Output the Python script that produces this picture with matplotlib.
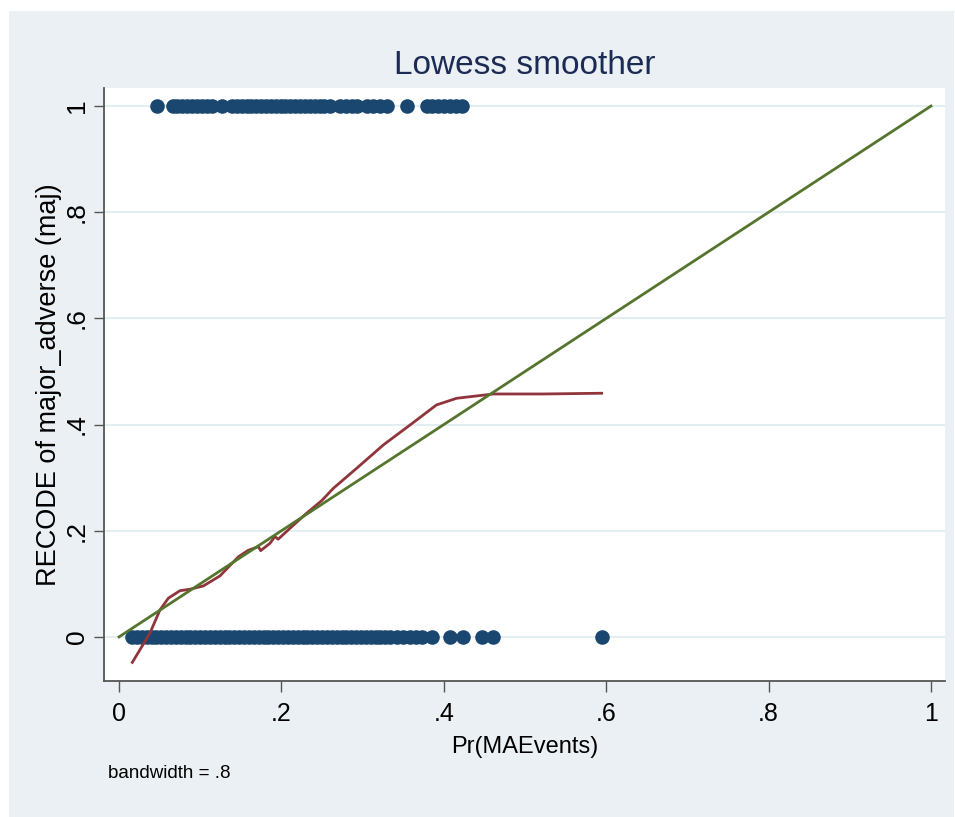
import matplotlib.pyplot as plt
from matplotlib.patches import Rectangle

# observed outcome = 1
x_event = [0.047, 0.066, 0.072, 0.078, 0.084, 0.090, 0.096, 0.102, 0.108, 0.114,
           0.127, 0.139, 0.145, 0.151, 0.157, 0.163, 0.169, 0.175, 0.181, 0.187,
           0.193, 0.199, 0.205, 0.211, 0.217, 0.223, 0.229, 0.235, 0.241, 0.247,
           0.253, 0.260, 0.272, 0.280, 0.287, 0.293, 0.305, 0.313, 0.322, 0.330,
           0.355, 0.379, 0.386, 0.393, 0.400, 0.408, 0.415, 0.422]

# observed outcome = 0
x_none = [0.016, 0.022, 0.028, 0.034, 0.040, 0.046, 0.052, 0.058, 0.064, 0.070,
          0.076, 0.082, 0.088, 0.094, 0.100, 0.106, 0.112, 0.118, 0.124, 0.130,
          0.136, 0.142, 0.148, 0.154, 0.160, 0.166, 0.172, 0.178, 0.184, 0.190,
          0.196, 0.202, 0.208, 0.214, 0.220, 0.226, 0.232, 0.238, 0.244, 0.250,
          0.256, 0.262, 0.268, 0.274, 0.280, 0.286, 0.292, 0.298, 0.304, 0.310,
          0.316, 0.322, 0.328, 0.334, 0.342, 0.350, 0.358, 0.366, 0.373, 0.385,
          0.408, 0.424, 0.447, 0.461, 0.595]

# lowess curve
lw_x = [0.0164, 0.038, 0.0505, 0.0608, 0.075, 0.0874, 0.1039, 0.1244, 0.147, 0.159,
        0.1716, 0.1745, 0.186, 0.192, 0.196, 0.2106, 0.231, 0.2496, 0.264, 0.2927,
        0.3255, 0.360, 0.391, 0.4157, 0.461, 0.5225, 0.5944]
lw_y = [-0.048, 0.007, 0.051, 0.073, 0.087, 0.0898, 0.096, 0.115, 0.151, 0.163,
        0.170, 0.1625, 0.1765, 0.189, 0.184, 0.2047, 0.233, 0.2567, 0.280, 0.3177,
        0.3616, 0.401, 0.437, 0.4495, 0.4576, 0.4576, 0.459]

# reference line
ref_x = [0, 1]
ref_y = [0, 1]

xticks = [0, 0.2, 0.4, 0.6, 0.8, 1]
xtick_labels = ['0', '.2', '.4', '.6', '.8', '1']
yticks = [0, 0.2, 0.4, 0.6, 0.8, 1]
ytick_labels = ['0', '.2', '.4', '.6', '.8', '1']

plt.rcParams['font.family'] = ['Liberation Sans', 'DejaVu Sans']

navy = '#1A476F'
maroon = '#90353B'
green = '#55752F'
panel = '#EAF0F3'

fig = plt.figure(figsize=(9.55, 8.17), dpi=100)
fig.patch.set_facecolor('white')
fig.patches.append(Rectangle((9 / 955, 0), 945 / 955, 806 / 817,
                             transform=fig.transFigure, facecolor=panel,
                             edgecolor='none', zorder=-10))

ax = fig.add_axes([0.1089, 0.1665, 0.8806, 0.7258])
ax.set_facecolor('white')
ax.set_xlim(-0.0185, 1.0172)
ax.set_ylim(-0.083, 1.034)

for yv in yticks:
    ax.axhline(yv, color='#E3EEF1', lw=1.5, zorder=1)

ax.plot(x_event, [1] * len(x_event), 'o', color=navy, ms=10.5, mew=0, zorder=3)
ax.plot(x_none, [0] * len(x_none), 'o', color=navy, ms=10.5, mew=0, zorder=3)
ax.plot(lw_x, lw_y, color=maroon, lw=2, zorder=4)
ax.plot(ref_x, ref_y, color=green, lw=2, zorder=4)

for s in ['top', 'right']:
    ax.spines[s].set_visible(False)
for s in ['left', 'bottom']:
    ax.spines[s].set_color('#555555')
    ax.spines[s].set_linewidth(1.3)

ax.set_xticks(xticks)
ax.set_xticklabels(xtick_labels, fontsize=18)
ax.set_yticks(yticks)
ax.set_yticklabels(ytick_labels, fontsize=19, rotation=90, va='center')
ax.tick_params(axis='x', length=8, width=1, color='#555555', pad=7)
ax.tick_params(axis='y', length=7, width=1, color='#555555', pad=4)

ax.set_xlabel('Pr(MAEvents)', fontsize=17, labelpad=7)
ax.set_ylabel('RECODE of major_adverse (maj)', fontsize=19.5, labelpad=2)
ax.set_title('Lowess smoother', fontsize=24, color='#1C2B55', pad=10)

fig.text(108 / 955, 1 - 773 / 817, 'bandwidth = .8', fontsize=13.5, va='center', ha='left')

fig.savefig('out.png', dpi=100)
